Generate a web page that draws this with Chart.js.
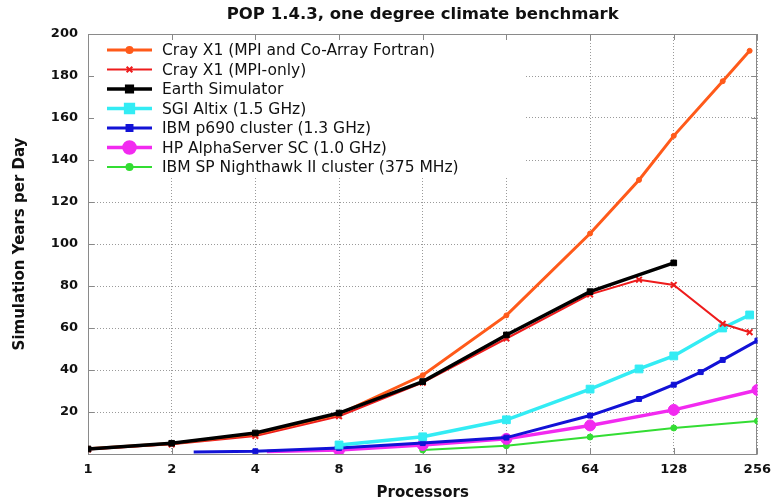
<!DOCTYPE html>
<html>
<head>
<meta charset="utf-8">
<script src="https://cdn.jsdelivr.net/npm/chart.js@4/dist/chart.umd.min.js"></script>
<style>
  html, body { margin: 0; padding: 0; background: #fff; }
  canvas { display: block; }
</style>
</head>
<body>
<canvas id="chart" width="779" height="504"></canvas>
<script>
// tick labels
const xTicks = [1, 2, 4, 8, 16, 32, 64, 128, 256];
const yMax = 200;
const yStep = 20;
const chartTitle = "POP 1.4.3, one degree climate benchmark";

// series (processors, simulation years per day)
const crayCafProcs = [1, 2, 4, 8, 16, 32, 64, 96, 128, 192, 240];
const crayCafYears = [2.5, 5, 9.5, 19, 37.5, 66, 105, 130.5, 151.5, 177.5, 192];
const crayMpiProcs = [1, 2, 4, 8, 16, 32, 64, 96, 128, 192, 240];
const crayMpiYears = [2.2, 4.6, 8.6, 18, 34, 55, 76, 83, 80.5, 62, 58];
const earthProcs = [1, 2, 4, 8, 16, 32, 64, 128];
const earthYears = [2.4, 5.1, 10, 19.5, 34.5, 56.7, 77.3, 91];
const altixProcs = [8, 16, 32, 64, 96, 128, 192, 240];
const altixYears = [4.3, 8.2, 16.3, 30.9, 40.5, 46.7, 60, 66.2];
const p690Procs = [2.4, 4, 8, 16, 32, 64, 96, 128, 160, 192, 256];
const p690Years = [0.9, 1.3, 2.9, 5.2, 7.8, 18.3, 26.2, 33, 39, 44.8, 54];
const alphaProcs = [4.4, 8, 16, 32, 64, 128, 256];
const alphaYears = [1.2, 1.9, 4.3, 7.2, 13.6, 21, 30.5];
const nighthawkProcs = [16, 32, 64, 128, 256];
const nighthawkYears = [1.9, 3.9, 8.1, 12.4, 15.7];

const FONT = "'DejaVu Sans', 'Liberation Sans', sans-serif";

function pts(xs, ys) {
  return xs.map((x, i) => ({ x: x, y: ys[i] }));
}

// first point of a couple of series has no marker in the original
const hideFirst = (r) => (ctx) => (ctx.dataIndex === 0 ? 0 : r);

// title over the plot, white legend box inside the plot, inward ticks and the frame
const plotDecor = {
  id: "plotDecor",
  beforeDatasetsDraw(chart) {
    const { ctx, chartArea: a, scales } = chart;
    ctx.save();

    ctx.fillStyle = "#111";
    ctx.font = "bold 16.5px " + FONT;
    ctx.textAlign = "center";
    ctx.textBaseline = "middle";
    ctx.fillText(chartTitle, (a.left + a.right) / 2, 15);

    ctx.fillStyle = "#fff";
    ctx.fillRect(a.left + 1, a.top + 1, 435, 143);

    ctx.strokeStyle = "#888";
    ctx.lineWidth = 1;
    ctx.beginPath();
    scales.y.ticks.forEach((t) => {
      const py = Math.round(scales.y.getPixelForValue(t.value)) + 0.5;
      ctx.moveTo(a.left, py); ctx.lineTo(a.left + 6, py);
      ctx.moveTo(a.right, py); ctx.lineTo(a.right - 6, py);
    });
    xTicks.forEach((v) => {
      const px = Math.round(scales.x.getPixelForValue(v)) + 0.5;
      ctx.moveTo(px, a.top); ctx.lineTo(px, a.top + 6);
      ctx.moveTo(px, a.bottom); ctx.lineTo(px, a.bottom - 6);
    });
    ctx.stroke();

    ctx.strokeStyle = "#8a8a8a";
    ctx.strokeRect(Math.round(a.left) + 0.5, Math.round(a.top) + 0.5,
      Math.round(a.width) - 1, Math.round(a.height));

    // legend
    ctx.font = "15.5px " + FONT;
    ctx.textBaseline = "middle";
    ctx.textAlign = "left";
    chart.data.datasets.forEach((ds, i) => {
      const yy = a.top + 16 + i * 19.5;
      const x0 = a.left + 19, x1 = a.left + 64;
      ctx.strokeStyle = ds.borderColor;
      ctx.lineWidth = ds.borderWidth;
      ctx.beginPath();
      ctx.moveTo(x0, yy);
      ctx.lineTo(x1, yy);
      ctx.stroke();
      ctx.fillStyle = ds.pointBackgroundColor;
      ctx.strokeStyle = ds.borderColor;
      Chart.helpers.drawPoint(ctx, {
        pointStyle: ds.pointStyle,
        radius: ds.legendRadius,
        rotation: 0,
        borderWidth: ds.pointBorderWidth || 1
      }, (x0 + x1) / 2, yy);
      ctx.fillStyle = "#111";
      ctx.fillText(ds.label, a.left + 74, yy + 1);
    });

    ctx.restore();
  }
};

function series(label, xs, ys, color, width, style, radius, extra) {
  return Object.assign({
    label: label,
    data: pts(xs, ys),
    borderColor: color,
    backgroundColor: color,
    pointBackgroundColor: color,
    pointBorderColor: color,
    borderWidth: width,
    pointStyle: style,
    pointRadius: radius,
    legendRadius: radius,
    pointBorderWidth: 1,
    tension: 0,
    order: 1
  }, extra || {});
}

new Chart(document.getElementById("chart"), {
  type: "line",
  data: {
    datasets: [
      series("Cray X1 (MPI and Co-Array Fortran)", crayCafProcs, crayCafYears, "#ff5a1a", 3, "circle", 2.5),
      series("Cray X1 (MPI-only)", crayMpiProcs, crayMpiYears, "#ee1c1c", 2, "crossRot", 4, { pointBorderWidth: 2 }),
      series("Earth Simulator", earthProcs, earthYears, "#000000", 3.5, "rect", 4, { order: 0 }),
      series("SGI Altix (1.5 GHz)", altixProcs, altixYears, "#33ecf4", 3.5, "rect", 5.5),
      series("IBM p690 cluster (1.3 GHz)", p690Procs, p690Years, "#1212d6", 3, "rect", 3.5, { pointRadius: hideFirst(3.5) }),
      series("HP AlphaServer SC (1.0 GHz)", alphaProcs, alphaYears, "#f22af0", 3.5, "circle", 5.5, { pointRadius: hideFirst(5.5) }),
      series("IBM SP Nighthawk II cluster (375 MHz)", nighthawkProcs, nighthawkYears, "#33dd33", 2, "circle", 3)
    ]
  },
  options: {
    responsive: false,
    animation: false,
    layout: { padding: { left: 0, right: 17, top: 34, bottom: 0 } },
    plugins: {
      legend: { display: false },
      tooltip: { enabled: false },
      title: { display: false }
    },
    scales: {
      x: {
        type: "logarithmic",
        min: 1,
        max: 256,
        afterBuildTicks: (scale) => { scale.ticks = xTicks.map((v) => ({ value: v })); },
        afterFit: (scale) => { scale.height = 50; },
        ticks: {
          autoSkip: false,
          maxRotation: 0,
          padding: 8,
          color: "#111",
          font: { family: FONT, size: 13, weight: "bold" },
          callback: (v) => String(v)
        },
        grid: { color: "#9a9a9a", lineWidth: 1, drawTicks: false },
        border: { display: false, dash: [1, 2] },
        title: {
          display: true,
          text: "Processors",
          color: "#111",
          font: { family: FONT, size: 15, weight: "bold" },
          padding: { top: 0, bottom: 2 }
        }
      },
      y: {
        min: 0,
        max: yMax,
        afterFit: (scale) => { scale.width = 88; },
        ticks: {
          stepSize: yStep,
          padding: 10,
          color: "#111",
          font: { family: FONT, size: 13, weight: "bold" },
          callback: (v) => (v === 0 ? "" : v)
        },
        grid: { color: "#9a9a9a", lineWidth: 1, drawTicks: false },
        border: { display: false, dash: [1, 2] },
        title: {
          display: true,
          text: "Simulation Years per Day",
          color: "#111",
          font: { family: FONT, size: 15, weight: "bold" },
          padding: { top: 11, bottom: 0 }
        }
      }
    }
  },
  plugins: [plotDecor]
});
</script>
</body>
</html>
